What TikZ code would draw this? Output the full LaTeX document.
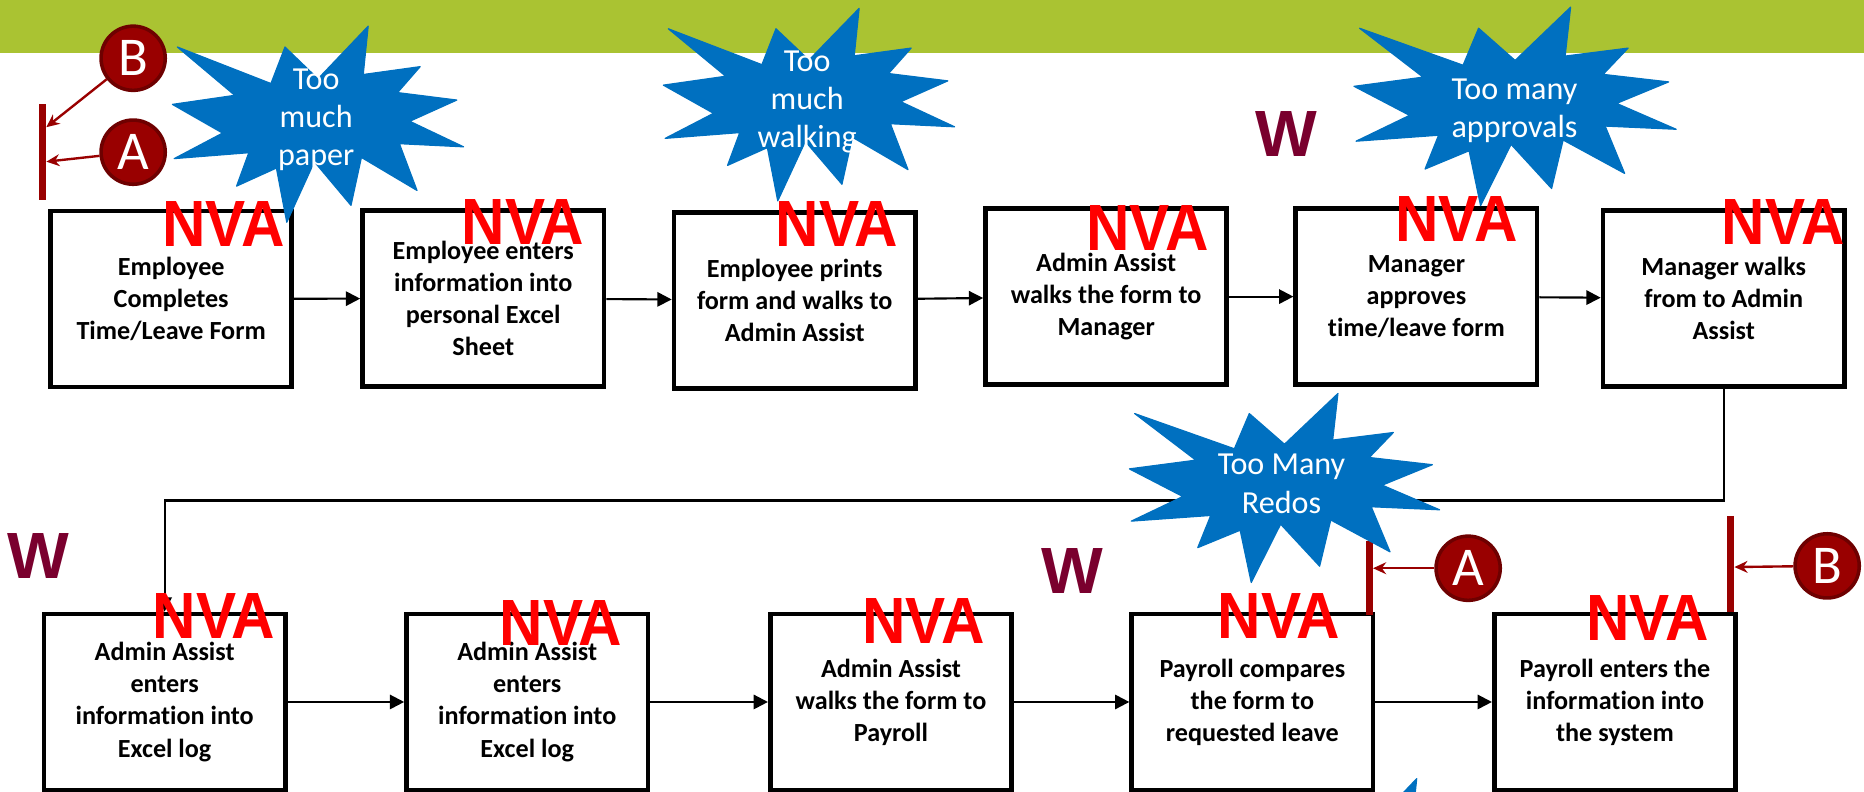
\documentclass[tikz,border=0pt]{standalone}
\usepackage{fontspec}
\usepackage{graphicx}
\setmainfont{Carlito}[Ligatures=NoCommon]
\newfontfamily\arialfont{Liberation Sans}
\usetikzlibrary{arrows.meta}

\definecolor{bandgreen}{RGB}{170,195,50}
\definecolor{burstblue}{RGB}{0,112,192}
\definecolor{refred}{RGB}{153,0,0}
\definecolor{refrim}{RGB}{110,0,0}
\definecolor{wasteclr}{RGB}{122,0,46}

\tikzset{
  stepbox/.style={draw, line width=4pt, minimum width=203pt, minimum height=148pt,
    align=center, inner sep=2pt, font=\fontsize{22}{27}\selectfont\bfseries},
  flow/.style={line width=1.8pt, -{Triangle[length=12pt,width=12pt]}},
  nva/.style={text=red, inner sep=0pt, font=\arialfont\fontsize{55}{55}\selectfont\bfseries},
  waste/.style={text=wasteclr, inner sep=0pt, font=\arialfont\fontsize{55}{55}\selectfont\bfseries},
  burstfill/.style={fill=burstblue, draw=burstblue, line width=1pt, line join=round},
  bursttext/.style={text=white, align=center, inner sep=0pt, font=\fontsize{27}{32}\selectfont},
  refcircle/.style={circle, fill=refred, draw=refrim, line width=3pt, minimum size=54pt,
    inner sep=0pt, text=white, font=\fontsize{46}{46}\selectfont},
  refbar/.style={draw=refred, line width=6pt},
  refarrow/.style={draw=refred, line width=2pt, -{Stealth[length=11pt,width=10pt]}},
}

\newcommand{\nvatag}{\scalebox{.92}[1]{NVA}}
\newcommand{\burst}[4]{%
  \fill[burstfill, shift={(#1,#2)}, xscale=#3/216, yscale=#4/216]
    (108,58) -- (145.22,0) -- (141.55,53.25) -- (183.8,44.57) -- (167.02,73.15)
    -- (210.97,81.37) -- (176.07,104.75) -- (216,132.9) -- (168.37,129.42)
    -- (181.45,180.95) -- (140.2,144.57) -- (132.47,197.37) -- (105.32,149.35)
    -- (84.85,216) -- (77.15,156.27) -- (47.62,176.17) -- (56.67,139.37)
    -- (1.35,145.87) -- (37.22,117.75) -- (0,86.15) -- (46.27,76.17)
    -- (3.7,22.95) -- (73.12,63.2) -- (83.52,22.95) -- cycle;}

\begin{document}
\begin{tikzpicture}[x=1pt, y=-1pt]
	\useasboundingbox (0,0) rectangle (1568,666);
	\fill[bandgreen] (0,0) rectangle (1568,45);

	\node[stepbox] (s1) at (144,251.5) {Employee\\Completes\\Time/Leave Form};
	\node[stepbox] (s2) at (406.5,251) {Employee enters\\information into\\personal Excel\\Sheet};
	\node[stepbox] (s3) at (668.5,252.5) {Employee prints\\form and walks to\\Admin Assist};
	\node[stepbox] (s4) at (930.5,249.5) {Admin Assist\\walks the form to\\Manager};
	\node[stepbox] (s5) at (1191.5,249.5) {Manager\\approves\\time/leave form};
	\node[stepbox] (s6) at (1450,251) {Manager walks\\from to Admin\\Assist};
	\node[stepbox] (s7) at (138.5,590.5) {Admin Assist\\enters\\information into\\Excel log};
	\node[stepbox] (s8) at (443.5,590.5) {Admin Assist\\enters\\information into\\Excel log};
	\node[stepbox] (s9) at (749.5,590.5) {Admin Assist\\walks the form to\\Payroll};
	\node[stepbox] (s10) at (1053.5,590.5) {Payroll compares\\the form to\\requested leave};
	\node[stepbox] (s11) at (1358.5,590.5) {Payroll enters the\\information into\\the system};

	\draw[flow] (s1) -- (s2);
	\draw[flow] (s2) -- (s3);
	\draw[flow] (s3) -- (s4);
	\draw[flow] (s4) -- (s5);
	\draw[flow] (s5) -- (s6);
	\draw[flow] (s6.south) -- ++(0,94) -| (s7.north);
	\draw[flow] (s7) -- (s8);
	\draw[flow] (s8) -- (s9);
	\draw[flow] (s9) -- (s10);
	\draw[flow] (s10) -- (s11);

	\draw[refbar] (35.5,87.5) -- (35.5,168);
	\draw[refbar] (1152,455) -- (1152,517);
	\draw[refbar] (1456,434) -- (1456,515);
	\coordinate (hitB1) at (39,107);
	\coordinate (hitA1) at (39,136);
	\coordinate (hitA2) at (1155,478);
	\coordinate (hitB2) at (1459,477);
	\node[refcircle] (B1) at (112,49) {B};
	\node[refcircle] (A1) at (112,128) {A};
	\node[refcircle] (A2) at (1235,478) {A};
	\node[refcircle] (B2) at (1537,476) {B};
	\draw[refarrow] (B1) -- (hitB1);
	\draw[refarrow] (A1) -- (hitA1);
	\draw[refarrow] (A2) -- (hitA2);
	\draw[refarrow] (B2) -- (hitB2);

	\burst{145}{22}{245}{165}
	\burst{558}{7}{245}{162}
	\burst{1139}{6}{271}{167}
	\burst{950}{331}{261}{159}
	\begin{scope}
		\clip (0,0) rectangle (1568,666);
		\burst{1027}{655}{245}{165}
	\end{scope}
	\node[bursttext] (t1) at (266,101) {Too\\much\\paper};
	\node[bursttext] (t2) at (679,86) {Too\\much\\walking};
	\node[bursttext] (t3) at (1274,93) {Too many\\approvals};
	\node[bursttext] (t4) at (1078,407) {Too Many\\Redos};

	\node[nva] (n1) at (188,188.5) {\nvatag};
	\node[nva] (n2) at (440,186.5) {\nvatag};
	\node[nva] (n3) at (704,188.5) {\nvatag};
	\node[nva] (n4) at (965.5,192) {\nvatag};
	\node[nva] (n5) at (1225,184) {\nvatag};
	\node[nva] (n6) at (1500,186.5) {\nvatag};
	\node[nva] (n7) at (180,518.5) {\nvatag};
	\node[nva] (n8) at (472,524) {\nvatag};
	\node[nva] (n9) at (777,522.5) {\nvatag};
	\node[nva] (n10) at (1076,518.5) {\nvatag};
	\node[nva] (n11) at (1386,520) {\nvatag};

	\node[waste] (w1) at (1082,112.5) {W};
	\node[waste] (w2) at (32,467.5) {W};
	\node[waste] (w3) at (902,480.5) {W};
\end{tikzpicture}
\end{document}
